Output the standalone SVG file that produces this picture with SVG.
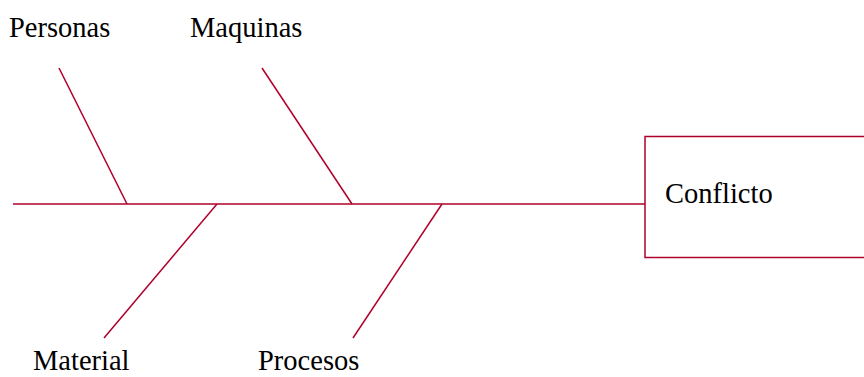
<svg xmlns="http://www.w3.org/2000/svg" width="864" height="377" viewBox="0 0 864 377">
<style>
.ln{stroke:#b0002a;stroke-width:1.5;fill:none}
.t{font-family:"Liberation Serif","Times New Roman",serif;font-size:28.5px;fill:#000}
</style>
<rect width="864" height="377" fill="#fff"/>
<g id="connectors">
<line class="ln" x1="13" y1="204" x2="645" y2="204"/>
<line class="ln" x1="59" y1="68" x2="127" y2="204"/>
<line class="ln" x1="262" y1="68" x2="352" y2="204"/>
<line class="ln" x1="217" y1="204" x2="104" y2="338"/>
<line class="ln" x1="442" y1="204" x2="353" y2="338"/>
</g>
<g id="personas"><text class="t" x="9" y="37">Personas</text></g>
<g id="maquinas"><text class="t" x="190" y="37">Maquinas</text></g>
<g id="material"><text class="t" x="33" y="370">Material</text></g>
<g id="procesos"><text class="t" x="258" y="370">Procesos</text></g>
<g id="conflicto">
<rect class="ln" x="645" y="136.5" width="230" height="121"/>
<text class="t" x="665" y="203">Conflicto</text>
</g>
</svg>
